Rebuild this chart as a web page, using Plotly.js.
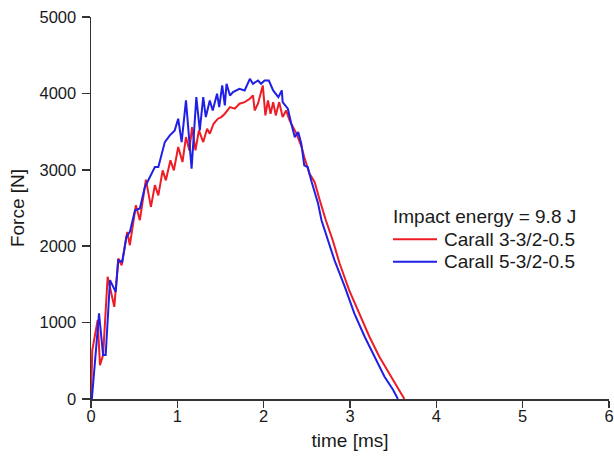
<!DOCTYPE html>
<html>
<head>
<meta charset="utf-8">
<script src="https://cdn.plot.ly/plotly-3.0.1.min.js"></script>
<style>html,body{margin:0;padding:0;background:#fff;}#chart{width:614px;height:462px;}</style>
</head>
<body>
<div id="chart"></div>
<script>
// Carall 3-3/2-0.5 (red)
const timeRed = [0.00,0.015,0.077,0.104,0.14,0.193,0.27,0.316,0.355,0.42,0.45,0.52,0.566,0.636,0.694,0.74,0.78,0.83,0.867,0.92,0.96,1.01,1.06,1.10,1.14,1.17,1.21,1.25,1.30,1.345,1.376,1.42,1.47,1.51,1.55,1.61,1.665,1.72,1.78,1.84,1.876,1.896,1.934,1.99,2.02,2.05,2.08,2.11,2.14,2.18,2.22,2.26,2.30,2.34,2.38,2.44,2.47,2.53,2.59,2.65,2.72,2.80,2.88,2.99,3.11,3.225,3.34,3.457,3.57,3.63];
const forceRed = [0,640,1033,444,575,1600,1206,1839,1751,2187,2013,2536,2340,2872,2514,2800,2666,2993,2862,3124,2993,3298,3102,3428,3254,3559,3254,3516,3363,3538,3473,3603,3669,3690,3734,3820,3800,3865,3886,3930,3973,3777,3865,4104,3712,3908,3734,3886,3712,3886,3690,3777,3646,3559,3473,3298,3167,2950,2840,2601,2340,2078,1774,1425,1120,815,553,336,118,0];
// Carall 5-3/2-0.5 (blue)
const timeBlue = [0.01,0.046,0.093,0.14,0.17,0.22,0.286,0.316,0.362,0.41,0.45,0.51,0.566,0.624,0.68,0.74,0.78,0.855,0.913,0.97,1.01,1.05,1.10,1.165,1.22,1.26,1.30,1.33,1.376,1.41,1.46,1.485,1.52,1.55,1.57,1.61,1.645,1.685,1.72,1.78,1.84,1.876,1.934,1.97,2.01,2.06,2.11,2.17,2.21,2.22,2.28,2.32,2.36,2.40,2.436,2.47,2.51,2.55,2.59,2.63,2.67,2.725,2.82,2.94,3.05,3.17,3.29,3.40,3.50,3.555];
const forceBlue = [0,470,1120,575,575,1555,1402,1817,1795,2121,2187,2470,2493,2775,2905,3036,3036,3363,3450,3516,3668,3363,3908,3015,3951,3516,3951,3690,3908,3777,3995,3820,4104,3843,4126,3973,4017,4039,4061,4039,4191,4126,4169,4126,4169,4169,4039,3951,4039,3886,3800,3603,3428,3494,3342,3058,3036,2862,2710,2558,2340,2144,1817,1468,1120,815,532,291,118,0];
const xTicks = [0,1,2,3,4,5,6];
const yTicks = [0,1000,2000,3000,4000,5000];
const legendTitle = 'Impact energy = 9.8 J';
const nameRed = 'Carall 3-3/2-0.5';
const nameBlue = 'Carall 5-3/2-0.5';

const FONT = 'Liberation Sans, Arial, Helvetica, sans-serif';
const axisCol = '#333333';
const txtCol = '#1a1a1a';
const colRed = '#ee1c24';
const colBlue = '#1f1fe6';

const traces = [
  {x: timeRed, y: forceRed, name: nameRed, type: 'scatter', mode: 'lines',
   line: {color: colRed, width: 2}, showlegend: false},
  {x: timeBlue, y: forceBlue, name: nameBlue, type: 'scatter', mode: 'lines',
   line: {color: colBlue, width: 2}, showlegend: false}
];

// legend block (paper coordinates)
const legX0 = 0.583, legX1 = 0.668, legTextX = 0.677;
const legTitleY = 0.478, legRedY = 0.418, legBlueY = 0.359;
const legFont = {family: FONT, size: 19, color: txtCol};

const layout = {
  width: 614, height: 462,
  margin: {l: 91, r: 5, t: 17, b: 63},
  paper_bgcolor: '#ffffff', plot_bgcolor: '#ffffff',
  font: {family: FONT, size: 16, color: txtCol},
  showlegend: false,
  shapes: [
    {type: 'line', xref: 'paper', yref: 'paper', x0: legX0, x1: legX1, y0: legRedY, y1: legRedY,
     line: {color: colRed, width: 2}},
    {type: 'line', xref: 'paper', yref: 'paper', x0: legX0, x1: legX1, y0: legBlueY, y1: legBlueY,
     line: {color: colBlue, width: 2}}
  ],
  annotations: [
    {xref: 'paper', yref: 'paper', x: legX0 - 0.004, y: legTitleY, xanchor: 'left', yanchor: 'middle',
     text: legendTitle, showarrow: false, font: legFont},
    {xref: 'paper', yref: 'paper', x: legTextX, y: legRedY, xanchor: 'left', yanchor: 'middle',
     text: nameRed, showarrow: false, font: legFont},
    {xref: 'paper', yref: 'paper', x: legTextX, y: legBlueY, xanchor: 'left', yanchor: 'middle',
     text: nameBlue, showarrow: false, font: legFont}
  ],
  xaxis: {
    range: [0, 6], tickvals: xTicks, ticktext: xTicks.map(String),
    showline: true, linecolor: axisCol, linewidth: 1.5,
    ticks: 'outside', ticklen: 7, tickwidth: 1.5, tickcolor: axisCol,
    ticklabelstandoff: -5,
    showgrid: false, zeroline: false,
    tickfont: {family: FONT, size: 16.5, color: txtCol},
    title: {text: 'time [ms]', font: {family: FONT, size: 19, color: txtCol}, standoff: 9}
  },
  yaxis: {
    range: [0, 5000], tickvals: yTicks, ticktext: yTicks.map(String),
    showline: true, linecolor: axisCol, linewidth: 1.5,
    ticks: 'outside', ticklen: 8, tickwidth: 1.5, tickcolor: axisCol,
    ticklabelstandoff: 2,
    showgrid: false, zeroline: false,
    tickfont: {family: FONT, size: 16.5, color: txtCol},
    title: {text: 'Force [N]', font: {family: FONT, size: 19, color: txtCol}, standoff: 10}
  }
};

Plotly.newPlot('chart', traces, layout, {staticPlot: true, displayModeBar: false});
</script>
</body>
</html>
